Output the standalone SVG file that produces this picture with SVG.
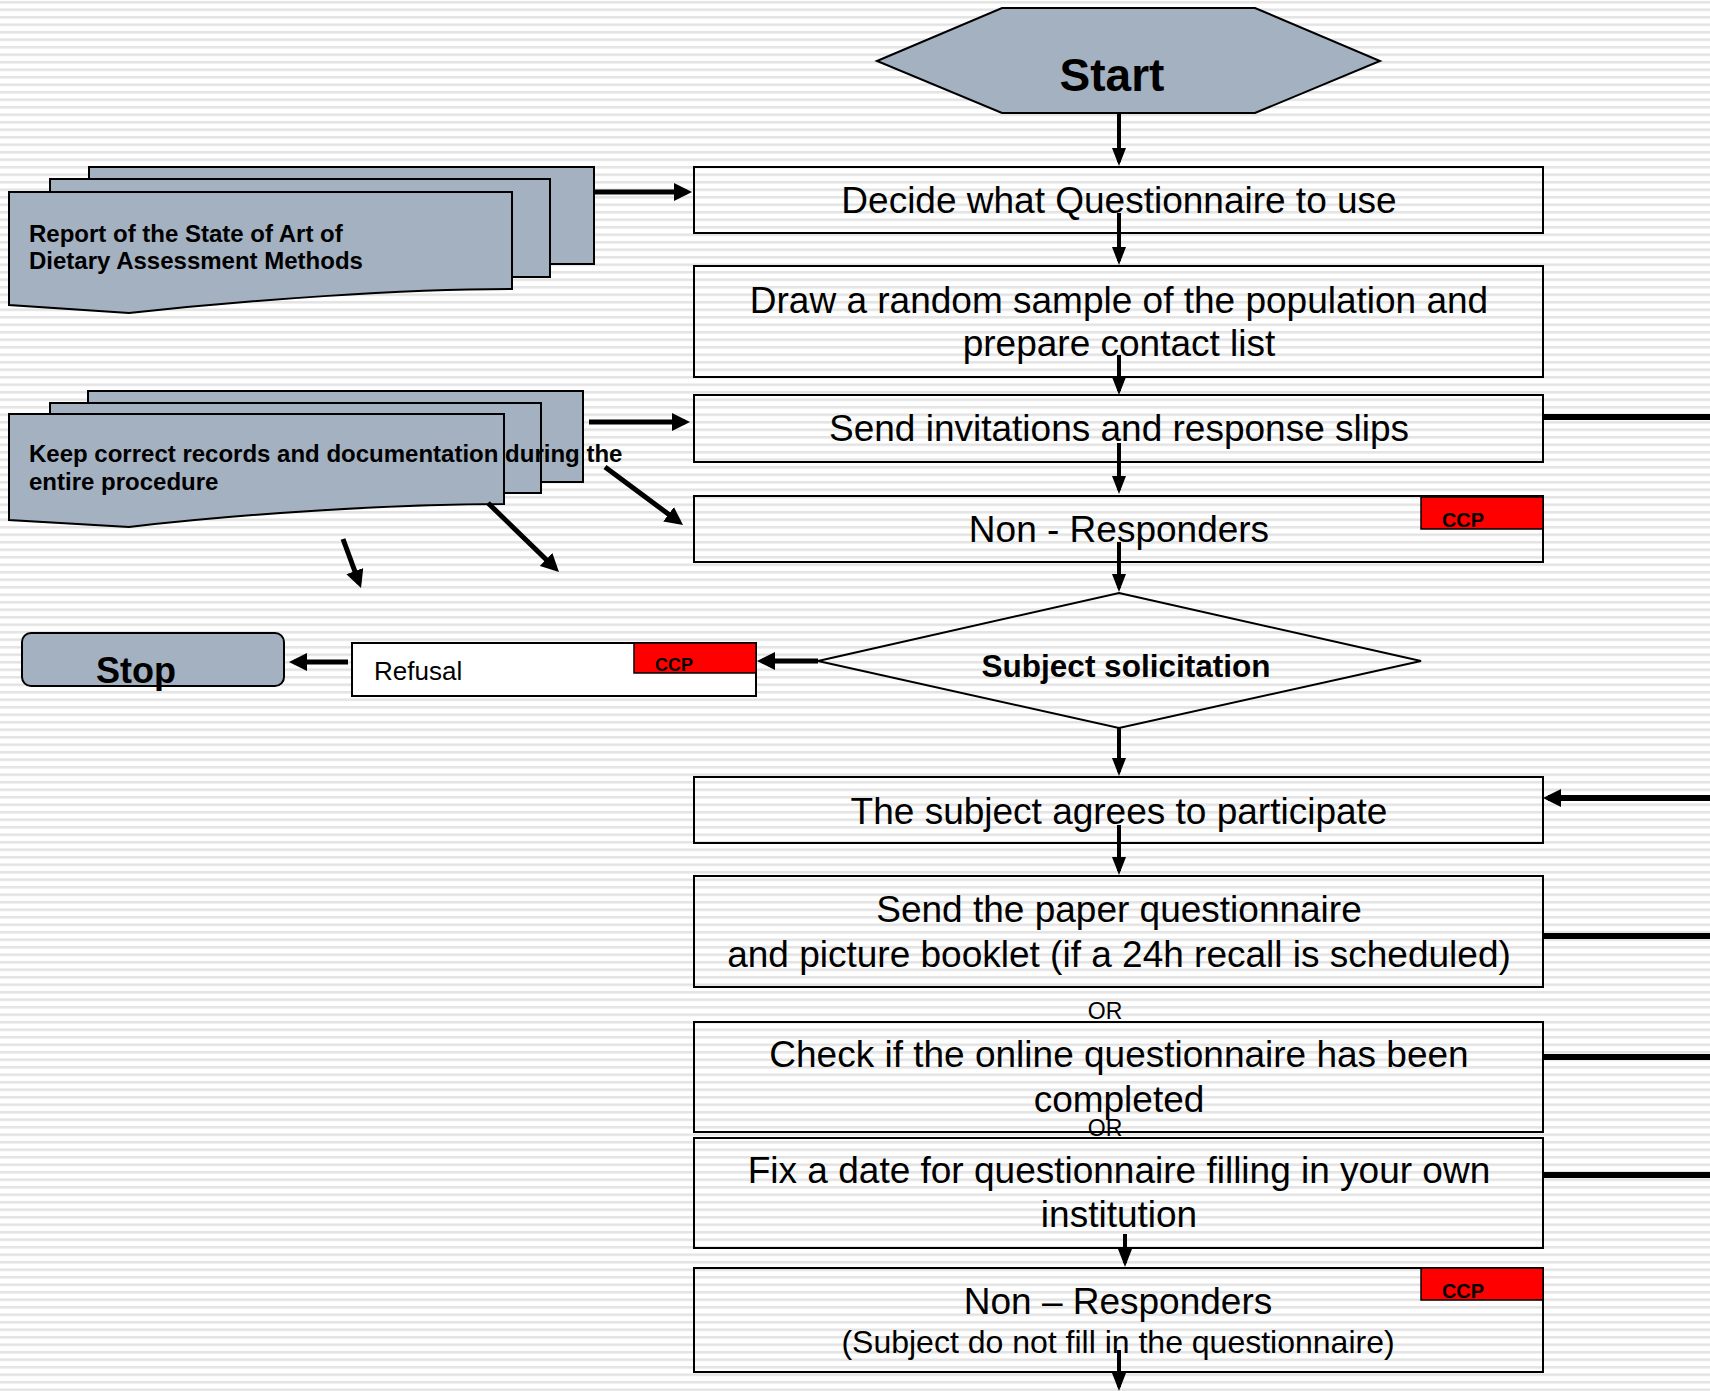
<svg xmlns="http://www.w3.org/2000/svg" width="1710" height="1391" viewBox="0 0 1710 1391">
<defs>
<pattern id="stripes" x="0" y="0" width="10" height="7.5" patternUnits="userSpaceOnUse">
<rect x="0" y="0" width="10" height="7.5" fill="#ffffff"/>
<rect x="0" y="1" width="10" height="2.5" fill="#e3e3e3"/>
</pattern>
<marker id="ah" viewBox="0 0 18 14" refX="14" refY="7" markerWidth="18" markerHeight="14" markerUnits="userSpaceOnUse" orient="auto">
<path d="M0,0 L18,7 L0,14 z" fill="#000"/>
</marker>
<marker id="ahb" viewBox="0 0 18 18" refX="13" refY="9" markerWidth="18" markerHeight="18" markerUnits="userSpaceOnUse" orient="auto">
<path d="M0,0 L18,9 L0,18 z" fill="#000"/>
</marker>
<style>
text{font-family:"Liberation Sans",Arial,sans-serif;fill:#000}
.box{fill:none;stroke:#000;stroke-width:2}
.doc{fill:#a3b1c1;stroke:#000;stroke-width:2}
.main{font-size:37px;text-anchor:middle}
.ccp{fill:#ff0000;stroke:#000;stroke-width:1.5}
.ccpt{font-size:20px;font-weight:bold;text-anchor:middle}
.doct{font-size:24px;font-weight:bold}
.thin{stroke:#000;stroke-width:4;fill:none;marker-end:url(#ah)}
.thick{stroke:#000;stroke-width:5;fill:none;marker-end:url(#ahb)}
.rline{stroke:#000;stroke-width:6;fill:none}
</style>
</defs>
<rect x="0" y="0" width="1710" height="1391" fill="url(#stripes)"/>

<g id="doc-report">
<rect class="doc" x="89" y="167" width="505" height="97"/>
<rect class="doc" x="50" y="179" width="500" height="98"/>
<path class="doc" d="M9,192 H512 V289 C400,289 250,300 129,313 L9,305 Z"/>
<text class="doct" x="29" y="242">Report of the State of Art of</text>
<text class="doct" x="29" y="269">Dietary Assessment Methods</text>
</g>

<g id="doc-records">
<rect class="doc" x="88" y="391" width="495" height="91"/>
<rect class="doc" x="50" y="403" width="491" height="90"/>
<path class="doc" d="M9,414 H504 V504 C400,504 250,513 129,527 L9,520 Z"/>
<text class="doct" x="29" y="462">Keep correct records and documentation during the</text>
<text class="doct" x="29" y="490">entire procedure</text>
</g>

<g id="start">
<polygon points="877,61 1002,8 1255,8 1380,61 1255,113 1002,113" fill="#a3b1c1" stroke="#000" stroke-width="2"/>
<text x="1112" y="91" font-size="46" font-weight="bold" text-anchor="middle">Start</text>
</g>

<g id="decide">
<rect class="box" x="694" y="167" width="849" height="66"/>
<text class="main" x="1119" y="213">Decide what Questionnaire to use</text>
</g>

<g id="draw">
<rect class="box" x="694" y="266" width="849" height="111"/>
<text class="main" x="1119" y="313">Draw a random sample of the population and</text>
<text class="main" x="1119" y="356">prepare contact list</text>
</g>

<g id="send-invitations">
<rect class="box" x="694" y="395" width="849" height="67"/>
<text class="main" x="1119" y="441">Send invitations and response slips</text>
</g>

<g id="non-responders-1">
<rect class="box" x="694" y="496" width="849" height="66"/>
<rect class="ccp" x="1421" y="497" width="122" height="32"/>
<text class="ccpt" x="1463" y="527">CCP</text>
<text class="main" x="1119" y="542">Non - Responders</text>
</g>

<g id="solicitation">
<polygon points="1119,593 1421,661 1119,728 818,661" fill="none" stroke="#000" stroke-width="2"/>
<text x="1126" y="677" font-size="31.5" font-weight="bold" text-anchor="middle">Subject solicitation</text>
</g>

<g id="refusal">
<rect x="352" y="643" width="404" height="53" fill="#fff" stroke="#000" stroke-width="2"/>
<rect class="ccp" x="634" y="643" width="122" height="30"/>
<text x="674" y="671" font-size="18" font-weight="bold" text-anchor="middle">CCP</text>
<text x="374" y="680" font-size="26">Refusal</text>
</g>

<g id="stop">
<rect x="22" y="633" width="262" height="53" rx="9" ry="9" fill="#a3b1c1" stroke="#000" stroke-width="2"/>
<text x="136" y="683" font-size="36" font-weight="bold" text-anchor="middle">Stop</text>
</g>

<g id="agrees">
<rect class="box" x="694" y="777" width="849" height="66"/>
<text class="main" x="1119" y="824">The subject agrees to participate</text>
</g>

<g id="send-paper">
<rect class="box" x="694" y="876" width="849" height="111"/>
<text class="main" x="1119" y="922">Send the paper questionnaire</text>
<text class="main" x="1119" y="967">and picture booklet (if a 24h recall is scheduled)</text>
</g>

<g id="or-1">
<text x="1105" y="1019" font-size="23" text-anchor="middle">OR</text>
</g>

<g id="check-online">
<rect class="box" x="694" y="1022" width="849" height="110"/>
<text class="main" x="1119" y="1067">Check if the online questionnaire has been</text>
<text class="main" x="1119" y="1112">completed</text>
</g>

<g id="or-2">
<text x="1105" y="1136" font-size="23" text-anchor="middle">OR</text>
</g>

<g id="fix-date">
<rect class="box" x="694" y="1138" width="849" height="110"/>
<text class="main" x="1119" y="1183">Fix a date for questionnaire filling in your own</text>
<text class="main" x="1119" y="1227">institution</text>
</g>

<g id="non-responders-2">
<rect class="box" x="694" y="1268" width="849" height="104"/>
<rect class="ccp" x="1421" y="1268" width="122" height="32"/>
<text class="ccpt" x="1463" y="1298">CCP</text>
<text class="main" x="1118" y="1314">Non – Responders</text>
<text x="1118" y="1353" font-size="32" text-anchor="middle">(Subject do not fill in the questionnaire)</text>
</g>

<g id="connectors">
<line class="thin" x1="1119" y1="113" x2="1119" y2="162"/>
<line class="thin" x1="1119" y1="213" x2="1119" y2="261"/>
<line class="thin" x1="1119" y1="355" x2="1119" y2="391"/>
<line class="thin" x1="1119" y1="443" x2="1119" y2="490"/>
<line class="thin" x1="1119" y1="542" x2="1119" y2="588"/>
<line class="thin" x1="1119" y1="728" x2="1119" y2="772"/>
<line class="thin" x1="1119" y1="825" x2="1119" y2="871"/>
<line class="thin" x1="1125" y1="1234" x2="1125" y2="1263"/>
<line class="thin" x1="1119" y1="1350" x2="1119" y2="1387"/>
<line class="thick" x1="594" y1="192" x2="687" y2="192"/>
<line class="thick" x1="589" y1="422" x2="685" y2="422"/>
<line class="thick" x1="605" y1="467" x2="679" y2="522"/>
<line class="thick" x1="488" y1="503" x2="555.4" y2="568.5"/>
<line class="thick" x1="343" y1="539" x2="359.3" y2="583.3"/>
<line class="thick" x1="818" y1="661" x2="762" y2="661"/>
<line class="thick" x1="348" y1="662" x2="294" y2="662"/>
<line class="thick" x1="1710" y1="798" x2="1548" y2="798" style="stroke-width:6"/>
<line class="rline" x1="1543" y1="417" x2="1710" y2="417"/>
<line class="rline" x1="1543" y1="936" x2="1710" y2="936"/>
<line class="rline" x1="1543" y1="1057" x2="1710" y2="1057"/>
<line class="rline" x1="1543" y1="1175" x2="1710" y2="1175"/>
</g>
</svg>
